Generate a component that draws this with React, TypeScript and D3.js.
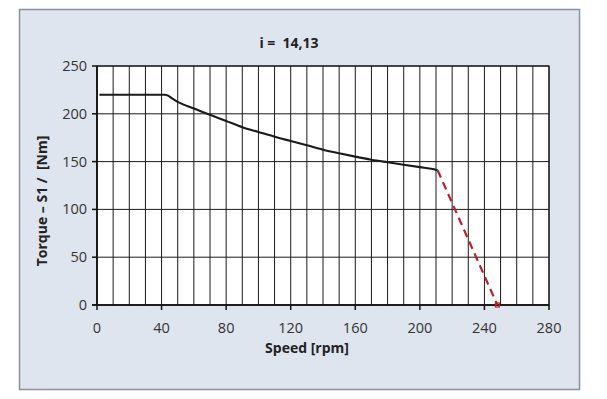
import * as d3 from "d3";

const ratioLabel = "i =\u00a0 14,13";
const xTicks = [0, 40, 80, 120, 160, 200, 240, 280];
const yTicks = [0, 50, 100, 150, 200, 250];
const xGrid = d3.range(0, 281, 10);

// S1 torque curve (solid)
const torqueSpeed = [1.5, 42, 44, 47, 50, 60, 70, 80, 90, 100, 110, 120, 130, 140, 150, 160, 170, 180, 190, 200, 208, 211];
const torqueValue = [220, 220, 219, 215.5, 212.5, 205.5, 199, 192.5, 186, 181, 176, 171.5, 167, 162.5, 158.7, 155.2, 152, 149.3, 146.7, 144.2, 142.3, 141];

// drop-off (dashed)
const dropSpeed = [211, 248];
const dropValue = [141, 0];

const W = 607;
const H = 399;
const plot = { left: 97, right: 549, top: 66, bottom: 305 };

export default function App() {
  const x = d3.scaleLinear().domain([0, 280]).range([plot.left, plot.right]);
  const y = d3.scaleLinear().domain([0, 250]).range([plot.bottom, plot.top]);

  const line = d3
    .line<[number, number]>()
    .x((d) => x(d[0]))
    .y((d) => y(d[1]))
    .curve(d3.curveMonotoneX);

  const solid = torqueSpeed.map((s, i) => [s, torqueValue[i]] as [number, number]);
  const dashed = dropSpeed.map((s, i) => [s, dropValue[i]] as [number, number]);
  const font = "'Open Sans', 'DejaVu Sans', sans-serif";

  return (
    <svg
      width={W}
      height={H}
      style={{ position: "absolute", left: 0, top: 0, background: "#fff" }}
      fontFamily={font}
    >
      <rect x={19.5} y={9.5} width={560} height={380} fill="#dfe5ef" stroke="#8a8f99" strokeWidth={1.5} />
      <rect x={plot.left} y={plot.top} width={plot.right - plot.left} height={plot.bottom - plot.top} fill="#fff" />

      {xGrid.map((v) => (
        <line key={"gx" + v} x1={x(v)} x2={x(v)} y1={plot.top} y2={plot.bottom} stroke="#1a1a1a" strokeWidth={1} />
      ))}
      {yTicks.map((v) => (
        <line key={"gy" + v} x1={plot.left} x2={plot.right} y1={y(v)} y2={y(v)} stroke="#1a1a1a" strokeWidth={1} />
      ))}
      <rect x={plot.left} y={plot.top} width={plot.right - plot.left} height={plot.bottom - plot.top} fill="none" stroke="#1a1a1a" strokeWidth={1.2} />

      {/* axis lines and ticks */}
      <line x1={plot.left - 5} x2={plot.right} y1={plot.bottom} y2={plot.bottom} stroke="#111" strokeWidth={1.5} />
      <line x1={plot.left} x2={plot.left} y1={plot.top} y2={plot.bottom} stroke="#111" strokeWidth={1.5} />
      {xTicks.map((v) => (
        <g key={"xt" + v}>
          <line x1={x(v)} x2={x(v)} y1={plot.bottom} y2={plot.bottom + 5} stroke="#111" strokeWidth={1.5} />
          <text x={x(v)} y={plot.bottom + 28} textAnchor="middle" fontSize={14.5} fill="#333">
            {v}
          </text>
        </g>
      ))}
      {yTicks.map((v) => (
        <g key={"yt" + v}>
          <line x1={plot.left - 5} x2={plot.left} y1={y(v)} y2={y(v)} stroke="#111" strokeWidth={1.5} />
          <text x={plot.left - 10} y={y(v)} dy="0.35em" textAnchor="end" fontSize={14.5} fill="#333">
            {v}
          </text>
        </g>
      ))}

      <path d={line(solid) ?? ""} fill="none" stroke="#1a1a1a" strokeWidth={2.1} />
      <path d={line(dashed) ?? ""} fill="none" stroke="#b8202e" strokeWidth={2.2} strokeDasharray="8,5" />
      <rect x={x(248) - 2} y={y(0) - 2} width={4} height={4} fill="none" stroke="#b8202e" strokeWidth={1.2} />

      <text x={289} y={48} textAnchor="middle" fontSize={14} fontWeight="bold" fill="#222">
        {ratioLabel}
      </text>
      <text x={307} y={353} textAnchor="middle" fontSize={14} fontWeight="bold" fill="#222">
        Speed [rpm]
      </text>
      <text
        transform={`translate(47,201) rotate(-90)`}
        textAnchor="middle"
        fontSize={14}
        fontWeight="bold"
        fill="#222"
      >
        {"Torque – S1 /\u00a0 [Nm]"}
      </text>
    </svg>
  );
}
